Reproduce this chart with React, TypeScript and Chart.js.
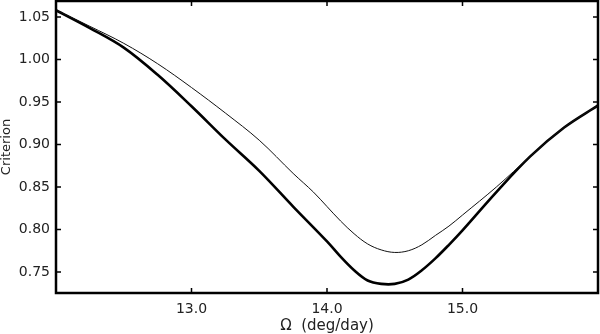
import React, { useEffect, useRef } from "react";
import { Chart, registerables } from "chart.js";

Chart.register(...registerables);

const omegaThick = [12.0, 12.25, 12.5, 12.75, 13.0, 13.25, 13.5, 13.75, 14.0, 14.1, 14.2, 14.3, 14.4, 14.5, 14.6, 14.7, 14.8, 14.9, 15.0, 15.25, 15.5, 15.75, 16.0];
const criterionThick = [1.058, 1.037, 1.014, 0.982, 0.945, 0.906, 0.869, 0.827, 0.786, 0.768, 0.752, 0.740, 0.736, 0.736, 0.741, 0.752, 0.766, 0.782, 0.799, 0.844, 0.886, 0.920, 0.946];

const omegaThin = [12.0, 12.25, 12.5, 12.75, 13.0, 13.25, 13.5, 13.75, 13.9, 14.0, 14.1, 14.2, 14.3, 14.4, 14.5, 14.6, 14.7, 14.8, 14.9, 15.0, 15.25, 15.5, 15.75, 16.0];
const criterionThin = [1.058, 1.039, 1.019, 0.995, 0.967, 0.937, 0.905, 0.866, 0.844, 0.827, 0.810, 0.795, 0.783, 0.776, 0.773, 0.775, 0.782, 0.793, 0.804, 0.817, 0.850, 0.886, 0.920, 0.946];

const xTicks = [13.0, 14.0, 15.0];
const yTicks = [0.75, 0.8, 0.85, 0.9, 0.95, 1.0, 1.05];

const frameTicks = {
  id: "frameTicks",
  afterDraw(chart: any) {
    const { ctx, chartArea } = chart;
    const { left, right, top, bottom } = chartArea;
    const xs = chart.scales.x;
    const ys = chart.scales.y;
    ctx.save();
    ctx.strokeStyle = "#000";
    ctx.lineWidth = 1.5;
    const len = 5;
    ctx.beginPath();
    xs.ticks.forEach((t: any) => {
      const px = xs.getPixelForValue(t.value);
      ctx.moveTo(px, bottom);
      ctx.lineTo(px, bottom - len);
      ctx.moveTo(px, top);
      ctx.lineTo(px, top + len);
    });
    ys.ticks.forEach((t: any) => {
      const py = ys.getPixelForValue(t.value);
      ctx.moveTo(left, py);
      ctx.lineTo(left + len, py);
      ctx.moveTo(right, py);
      ctx.lineTo(right - len, py);
    });
    ctx.stroke();
    ctx.lineWidth = 2.5;
    ctx.strokeRect(left, top, right - left, bottom - top);
    ctx.restore();
  },
};

export default function App() {
  const ref = useRef<HTMLCanvasElement>(null);
  useEffect(() => {
    if (!ref.current) return;
    const chart = new Chart(ref.current, {
      type: "line",
      data: {
        datasets: [
          {
            data: omegaThin.map((x, i) => ({ x, y: criterionThin[i] })),
            borderColor: "#111",
            borderWidth: 1,
            pointRadius: 0,
            tension: 0.35,
          },
          {
            data: omegaThick.map((x, i) => ({ x, y: criterionThick[i] })),
            borderColor: "#000",
            borderWidth: 2.6,
            pointRadius: 0,
            tension: 0.35,
          },
        ],
      },
      plugins: [frameTicks],
      options: {
        responsive: false,
        animation: false,
        layout: { padding: { top: 1, right: 2, left: 0, bottom: 0 } },
        plugins: { legend: { display: false }, tooltip: { enabled: false } },
        scales: {
          x: {
            type: "linear",
            min: 12,
            max: 16,
            afterBuildTicks: (s: any) => {
              s.ticks = xTicks.map((v) => ({ value: v }));
            },
            afterFit: (s: any) => {
              s.height = 41;
              s.paddingLeft = 0;
              s.paddingRight = 0;
            },
            grid: { display: false, drawTicks: false },
            border: { display: false },
            ticks: {
              padding: 8,
              color: "#222",
              font: { family: "DejaVu Sans", size: 14 },
              callback: (v: any) => Number(v).toFixed(1),
              maxRotation: 0,
            },
            title: {
              display: true,
              text: "Ω  (deg/day)",
              color: "#222",
              font: { family: "DejaVu Sans", size: 15, lineHeight: 1.07 },
              padding: 0,
            },
          },
          y: {
            type: "linear",
            min: 0.7253,
            max: 1.0688,
            afterBuildTicks: (s: any) => {
              s.ticks = yTicks.map((v) => ({ value: v }));
            },
            afterFit: (s: any) => {
              s.width = 56;
              s.paddingTop = 0;
              s.paddingBottom = 0;
            },
            grid: { display: false, drawTicks: false },
            border: { display: false },
            ticks: {
              padding: 6,
              color: "#222",
              font: { family: "DejaVu Sans", size: 14 },
              callback: (v: any) => Number(v).toFixed(2),
            },
            title: {
              display: true,
              text: "Criterion",
              color: "#222",
              font: { family: "DejaVu Sans", size: 13, lineHeight: 1.07 },
              padding: 0,
            },
          },
        },
      },
    } as any);
    return () => chart.destroy();
  }, []);
  return (
    <div style={{ position: "fixed", left: 0, top: 0, width: 600, height: 334, background: "#fff" }}>
      <canvas ref={ref} width={600} height={334} style={{ width: 600, height: 334 }} />
    </div>
  );
}
